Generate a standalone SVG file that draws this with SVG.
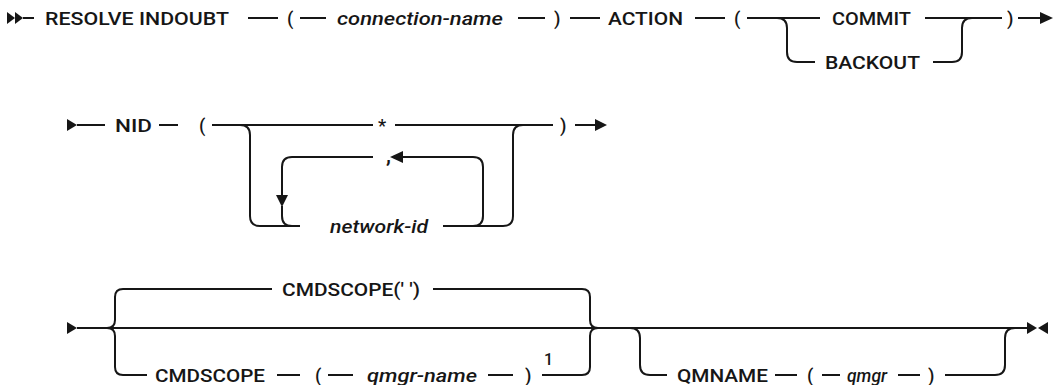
<svg xmlns="http://www.w3.org/2000/svg" width="1055" height="385" viewBox="0 0 1055 385">
<style>
.t{font-family:Roboto,"Liberation Sans",Arial,sans-serif;font-size:18.5px;font-weight:500;fill:#161616}
.i{font-style:italic}
.sup{font-size:16px}
.cm{font-size:22px}
.ln{fill:none;stroke:#161616;stroke-width:2}
.ah{fill:#161616;stroke:none}
</style>
<rect width="1055" height="385" fill="#ffffff"/>
<g id="connectors">
<!-- row 1 -->
<polygon class="ah" points="7,12 15,18 7,24"/>
<polygon class="ah" points="15,12 23,18 15,24"/>
<path class="ln" d="M23 18H34 M248 18H278 M300 18H326 M518 18H545 M570 18H600 M695 18H725 M747 18H820 M925 18H1002 M1018 18H1041"/>
<path class="ln" d="M777 18Q787 18 787 28V52Q787 62 797 62H815"/>
<path class="ln" d="M933 62H952Q962 62 962 52V28Q962 18 972 18"/>
<polygon class="ah" points="1040,12 1053,18 1040,24"/>
<!-- row 2 -->
<polygon class="ah" points="67,119 77,125 67,131"/>
<path class="ln" d="M77 125H105 M159 125H178 M212 125H373 M395 125H553 M575 125H596"/>
<polygon class="ah" points="595,119 607,125 595,131"/>
<path class="ln" d="M240 125Q250 125 250 135V216Q250 226 260 226H300"/>
<path class="ln" d="M443 226H503Q513 226 513 216V135Q513 125 523 125"/>
<path class="ln" d="M473 226Q483 226 483 216V167Q483 157 473 157H402"/>
<polygon class="ah" points="390,157 403,151 403,163"/>
<path class="ln" d="M373 157H292Q282 157 282 167V196"/>
<polygon class="ah" points="276,195 288,195 282,207"/>
<path class="ln" d="M282 206V216Q282 226 292 226"/>
<!-- row 3 -->
<polygon class="ah" points="67,322 77,328 67,334"/>
<path class="ln" d="M77 328H1028"/>
<path class="ln" d="M107 328Q115 328 115 320V297Q115 289 123 289H272"/>
<path class="ln" d="M107 328Q115 328 115 336V367Q115 375 123 375H147"/>
<path class="ln" d="M433 289H582Q590 289 590 297V320Q590 328 598 328"/>
<path class="ln" d="M542 375H582Q590 375 590 367V336Q590 328 598 328"/>
<path class="ln" d="M277 375H300 M328 375H353 M488 375H513"/>
<path class="ln" d="M630 328Q640 328 640 338V365Q640 375 650 375H667"/>
<path class="ln" d="M775 375H797 M822 375H840 M898 375H920"/>
<path class="ln" d="M945 375H995Q1005 375 1005 365V338Q1005 328 1015 328"/>
<polygon class="ah" points="1027,322 1037,328 1027,334"/>
<polygon class="ah" points="1048,322 1038,328 1048,334"/>
</g>
<g id="n-resolve"><text class="t" x="45" y="24.6" textLength="184" lengthAdjust="spacingAndGlyphs">RESOLVE INDOUBT</text></g>
<g id="n-lp1"><text class="t" x="287" y="24.6">(</text></g>
<g id="n-connection-name"><text class="t i" x="337" y="24.6" textLength="166" lengthAdjust="spacingAndGlyphs">connection-name</text></g>
<g id="n-rp1"><text class="t" x="554" y="24.6">)</text></g>
<g id="n-action"><text class="t" x="608" y="24.6" textLength="75" lengthAdjust="spacingAndGlyphs">ACTION</text></g>
<g id="n-lp2"><text class="t" x="734" y="24.6">(</text></g>
<g id="n-commit"><text class="t" x="832" y="24.6" textLength="79" lengthAdjust="spacingAndGlyphs">COMMIT</text></g>
<g id="n-backout"><text class="t" x="825" y="68.6" textLength="95" lengthAdjust="spacingAndGlyphs">BACKOUT</text></g>
<g id="n-rp2"><text class="t" x="1007" y="24.6">)</text></g>
<g id="n-nid"><text class="t" x="115" y="131.6" textLength="37" lengthAdjust="spacingAndGlyphs">NID</text></g>
<g id="n-lp3"><text class="t" x="199" y="131.6">(</text></g>
<g id="n-star"><text class="t" x="378" y="131.6">*</text></g>
<g id="n-comma"><text class="t cm" x="386" y="163">,</text></g>
<g id="n-network-id"><text class="t i" x="330" y="232.6" textLength="98" lengthAdjust="spacingAndGlyphs">network-id</text></g>
<g id="n-rp3"><text class="t" x="560" y="131.6">)</text></g>
<g id="n-cmdscope-default"><text class="t" x="282" y="295.6" textLength="138" lengthAdjust="spacingAndGlyphs">CMDSCOPE(' ')</text></g>
<g id="n-cmdscope"><text class="t" x="155" y="381.6" textLength="110" lengthAdjust="spacingAndGlyphs">CMDSCOPE</text></g>
<g id="n-lp4"><text class="t" x="315" y="381.6">(</text></g>
<g id="n-qmgr-name"><text class="t i" x="367" y="381.6" textLength="110" lengthAdjust="spacingAndGlyphs">qmgr-name</text></g>
<g id="n-rp4"><text class="t" x="525" y="381.6">)</text></g>
<g id="n-note1"><text class="t sup" x="544" y="365">1</text></g>
<g id="n-qmname"><text class="t" x="677" y="381.6" textLength="91" lengthAdjust="spacingAndGlyphs">QMNAME</text></g>
<g id="n-lp5"><text class="t" x="807" y="381.6">(</text></g>
<g id="n-qmgr"><text class="t i" x="847" y="381.6" textLength="40" lengthAdjust="spacingAndGlyphs">qmgr</text></g>
<g id="n-rp5"><text class="t" x="928" y="381.6">)</text></g>
</svg>
